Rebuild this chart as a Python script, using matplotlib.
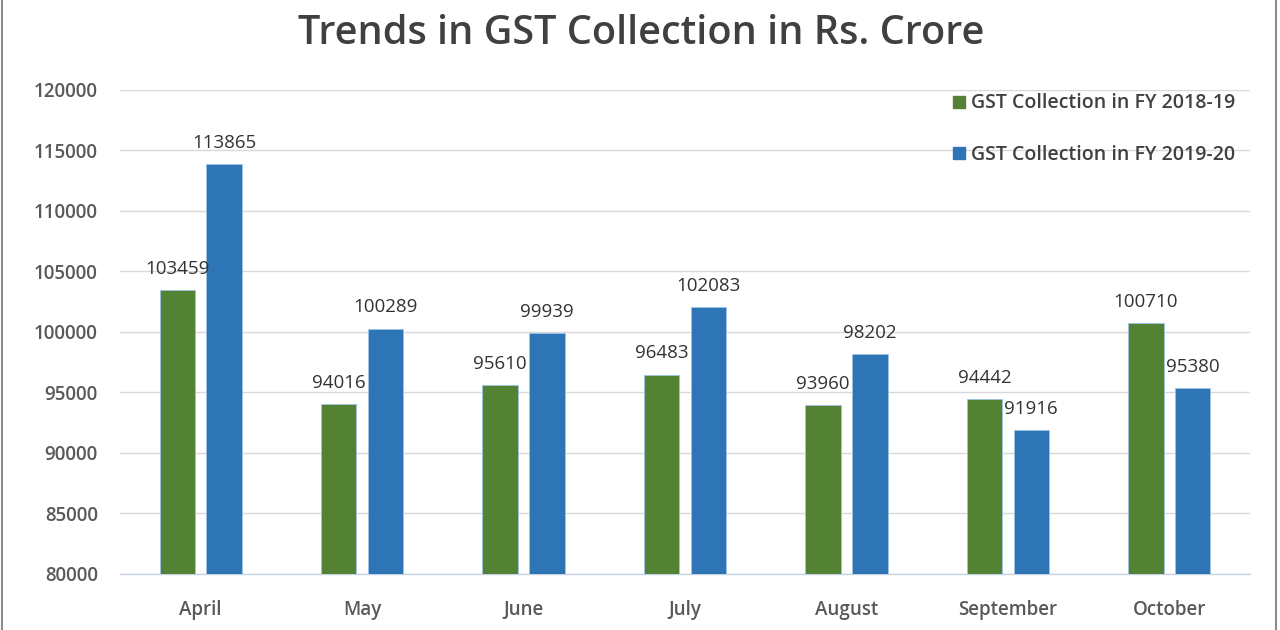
import matplotlib
matplotlib.use("Agg")
import matplotlib.pyplot as plt
import numpy as np
from matplotlib.patches import Rectangle
from matplotlib.lines import Line2D

months = ["April", "May", "June", "July", "August", "September", "October"]
fy1819 = [103459, 94016, 95610, 96483, 93960, 94442, 100710]
fy1920 = [113865, 100289, 99939, 102083, 98202, 91916, 95380]
series_names = ["GST Collection in FY 2018-19", "GST Collection in FY 2019-20"]
yticks = [80000, 85000, 90000, 95000, 100000, 105000, 110000, 115000, 120000]

green = "#548235"
blue = "#2E75B6"
plt.rcParams['font.family'] = ['Open Sans', 'DejaVu Sans']

fig = plt.figure(figsize=(12.8, 6.3), dpi=100)
ax = fig.add_axes([120/1280, 1-574/630, 1130/1280, (574-90)/630])

x = np.arange(len(months))
w = 0.22
off = 0.145
ax.bar(x - off, fy1819, w, color=green, edgecolor="#9dc3e6", linewidth=0.6, zorder=3)
ax.bar(x + off, fy1920, w, color=blue, edgecolor="#9dc3e6", linewidth=0.6, zorder=3)

for xi, v in zip(x - off, fy1819):
    ax.text(xi, v + 1000, str(v), ha="center", va="bottom", fontsize=13.5, color="#333333", zorder=4)
for xi, v in zip(x + off, fy1920):
    ax.text(xi, v + 1000, str(v), ha="center", va="bottom", fontsize=13.5, color="#333333", zorder=4)

ax.set_ylim(80000, 120000)
ax.set_xlim(-0.5, len(months) - 0.5)
ax.set_yticks(yticks)
ax.set_yticklabels([str(t) for t in yticks], fontsize=13.5, color="#595959", fontweight="semibold")
ax.set_xticks(x)
ax.set_xticklabels(months, fontsize=13.5, color="#595959", fontweight="semibold")
ax.tick_params(axis="both", length=0)
ax.tick_params(axis="y", pad=16)
ax.tick_params(axis="x", pad=19)
ax.grid(axis="y", color="#d9d9d9", linewidth=1, zorder=0)
for s in ["top", "right", "left"]:
    ax.spines[s].set_visible(False)
ax.spines["bottom"].set_color("#c5d3e6")
ax.spines["bottom"].set_linewidth(1)

handles = [Line2D([0], [0], marker="s", color="none", markerfacecolor=green, markeredgecolor=green, markersize=9),
           Line2D([0], [0], marker="s", color="none", markerfacecolor=blue, markeredgecolor=blue, markersize=9)]
leg = ax.legend(handles, series_names, loc="upper left", bbox_to_anchor=(932/1280, 1-76/630),
                bbox_transform=fig.transFigure, frameon=False, labelcolor="#404040",
                handletextpad=0.1, handlelength=1.0, labelspacing=1.6,
                prop={"size": 14, "weight": "semibold"})

fig.text(641/1280, 1-34/630, "Trends in GST Collection in Rs. Crore", ha="center", va="center",
         fontsize=28.5, color="#404040", fontweight="semibold")

fig.add_artist(Rectangle((2/1280, -0.01), 1274/1280, 1.02, transform=fig.transFigure,
                         fill=False, edgecolor="#8c8c8c", linewidth=1.5))

fig.savefig("out.png", dpi=100, facecolor="white")
